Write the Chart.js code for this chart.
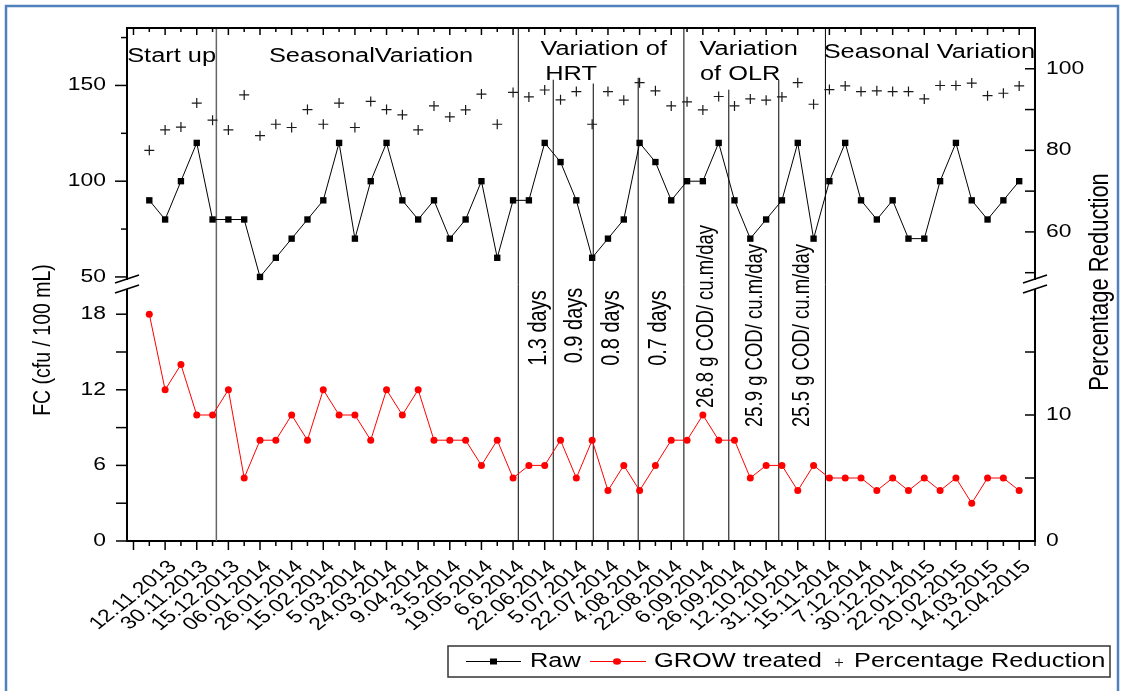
<!DOCTYPE html>
<html>
<head>
<meta charset="utf-8">
<script src="https://cdn.jsdelivr.net/npm/chart.js@4.4.1/dist/chart.umd.min.js"></script>
<style>
  html, body { margin: 0; padding: 0; background: #fff; }
</style>
</head>
<body>
<canvas id="fc" width="1124" height="691"></canvas>
<script>
// sampling dates (one label every second sample)
const dateLabels = ['12.11.2013','30.11.2013','15.12.2013','06.01.2014','26.01.2014','15.02.2014','5.03.2014',
  '24.03.2014','9.04.2014','3.5.2014','19.05.2014','6.6.2014','22.06.2014','5.07.2014','22.07.2014','4.08.2014',
  '22.08.2014','6.09.2014','26.09.2014','12.10.2014','31.10.2014','15.11.2014','7.12.2014','30.12.2014',
  '22.01.2015','20.02.2015','14.03.2015','12.04.2015']

const rawFC = [90,80,100,120,80,80,80,50,60,70, 80,90,120,70,100,120,90,80,90,70,
  80,100,60,90,90,120,110,90,60,70, 80,120,110,90,100,100,120,90,70,80,
  90,120,70,100,120,90,80,90,70,70, 100,120,90,80,90,100]

const growFC = [18,12,14,10,10,12,5,8,8,10, 8,12,10,10,8,12,10,12,8,8,
  8,6,8,5,6,6,8,5,8,4, 6,4,6,8,8,10,8,8,5,6,
  6,4,6,5,5,5,4,5,4,5, 4,5,3,5,5,4]

const pctReduction = [80,85,85.7,91.6,87.4,85,93.6,83.6,86.4,85.6, 90,86.4,91.6,85.6,92,90,88.7,85,90.9,88.2,
  89.9,93.8,86.4,94.2,93.1,94.8,92.4,94.4,86.4,94.4, 92.3,96.6,94.6,90.9,91.9,89.9,93.2,90.9,92.6,92.3,
  93.1,96.6,91.3,94.9,95.8,94.4,94.6,94.4,94.4,92.6, 95.9,95.9,96.5,93.4,94,95.8]

// phase boundaries (sample index) and how high each line reaches on the FC scale
const phaseAt = [5.24, 24.33, 26.54, 29.07, 31.91, 34.8, 37.64, 40.8, 43.75]
const phaseTop = [180, 180, 153, 151, 154, 180, 147.8, 153, 180]

const phaseTitles = [
  {t: 'Start up', x: 2.41, y: 162.5},
  {t: 'SeasonalVariation', x: 15.02, y: 162.5},
  {t: 'Variation of', x: 29.73, y: 166},
  {t: 'HRT', x: 27.67, y: 153},
  {t: 'Variation', x: 38.9, y: 166},
  {t: 'of OLR', x: 38.36, y: 153},
  {t: 'Seasonal Variation', x: 50.32, y: 164.3},
]
const phaseNotes = [
  {t: '1.3 days', x: 25.63, y: 13.9, size: 20},
  {t: '0.9 days', x: 27.93, y: 14.1, size: 20},
  {t: '0.8 days', x: 30.27, y: 13.9, size: 20},
  {t: '0.7 days', x: 33.24, y: 13.9, size: 20},
  {t: '26.8 g COD/ cu.m/day', x: 36.21, y: 10.56, size: 18.5},
  {t: '25.9 g COD/ cu.m/day', x: 39.31, y: 9.05, size: 18.5},
  {t: '25.5 g COD/ cu.m/day', x: 42.28, y: 9.05, size: 18.5},
]

const SX = 1.27
const FONT = '"Liberation Sans", Arial, sans-serif'

const pts = arr => arr.map((v, i) => ({x: i + 1, y: v}))
const range = (a, b, step) => { const out = []; for (let v = a; v <= b; v += step) out.push({value: v}); return out }

function text(ctx, str, x, y, size, align, base, rot) {
  ctx.save()
  ctx.translate(x, y)
  ctx.scale(SX, 1)
  if (rot) ctx.rotate(rot)
  ctx.font = size + 'px ' + FONT
  ctx.textAlign = align
  ctx.textBaseline = base
  ctx.fillStyle = '#000'
  ctx.fillText(str, 0, 0)
  ctx.restore()
}

function line(ctx, x1, y1, x2, y2) {
  ctx.beginPath(); ctx.moveTo(x1, y1); ctx.lineTo(x2, y2); ctx.stroke()
}

function breakMark(ctx, x0, b) {
  ctx.fillStyle = '#fff'
  ctx.fillRect(x0 - 2, b - 9, 4, 9)
  ctx.strokeStyle = '#000'
  ctx.lineWidth = 1.5
  line(ctx, x0 - 12, b - 6, x0 + 12, b - 14)
  line(ctx, x0 - 12, b + 4, x0 + 12, b - 4)
}

const decor = {
  id: 'decor',
  beforeDatasetsDraw(chart) {
    const {ctx, chartArea: a, scales: s} = chart
    ctx.save()
    phaseAt.forEach((v, i) => {
      const px = s.x.getPixelForValue(v)
      ctx.strokeStyle = i === 0 ? '#666' : '#000'
      ctx.lineWidth = i === 0 ? 1.5 : 1
      line(ctx, px, s.yHigh.getPixelForValue(phaseTop[i]), px, a.bottom)
    })
    ctx.restore()
  },
  afterDraw(chart) {
    const {ctx, chartArea: a, scales: s} = chart
    ctx.save()
    ctx.strokeStyle = '#000'

    // top frame
    ctx.lineWidth = 2
    line(ctx, a.left - 1, a.top, a.right + 1, a.top)

    // x ticks, bottom outward and top inward
    ctx.lineWidth = 1.5
    s.x.ticks.forEach(t => {
      const px = s.x.getPixelForValue(t.value)
      const major = t.value % 2 === 0
      line(ctx, px, a.bottom, px, a.bottom + (major ? 9 : 5))
      line(ctx, px, a.top, px, a.top + (major ? 7 : 4))
      if (major && t.value >= 2 && t.value <= 56) {
        text(ctx, dateLabels[t.value / 2 - 1], px + 8, a.bottom + 23, 18, 'right', 'middle', -Math.PI / 4)
      }
    })

    // left axes
    s.yHigh.ticks.forEach(t => {
      const py = s.yHigh.getPixelForValue(t.value)
      const major = t.value % 50 === 0
      line(ctx, a.left - (major ? 12 : 6), py, a.left, py)
      if (major) text(ctx, String(t.value), a.left - 21, py, 18, 'right', 'middle')
    })
    s.yLow.ticks.forEach(t => {
      const py = s.yLow.getPixelForValue(t.value)
      line(ctx, a.left - 11, py, a.left, py)
      if (t.value % 6 === 0) text(ctx, String(t.value), a.left - 21, py, 18, 'right', 'middle')
    })

    // right axes, ticks point inside
    s.rHigh.ticks.forEach(t => {
      const py = s.rHigh.getPixelForValue(t.value)
      line(ctx, a.right - 10, py, a.right, py)
      if (t.value % 20 === 0) text(ctx, String(t.value), a.right + 11, py, 18, 'left', 'middle')
    })
    s.rLow.ticks.forEach(t => {
      const py = s.rLow.getPixelForValue(t.value)
      line(ctx, a.right - 10, py, a.right, py)
      if (t.value % 10 === 0) text(ctx, String(t.value), a.right + 11, py, 18, 'left', 'middle')
    })

    // axis breaks
    const b = s.yHigh.bottom
    breakMark(ctx, a.left, b)
    breakMark(ctx, a.right, b)

    // axis titles
    text(ctx, 'FC (cfu / 100 mL)', 43, 340, 19.5, 'center', 'middle', -Math.PI / 2)
    text(ctx, 'Percentage Reduction', 1100, 282, 22, 'center', 'middle', -Math.PI / 2)

    // phase captions
    phaseTitles.forEach(n => text(ctx, n.t, s.x.getPixelForValue(n.x), s.yHigh.getPixelForValue(n.y), 20, 'center', 'alphabetic'))
    phaseNotes.forEach(n => text(ctx, n.t, s.x.getPixelForValue(n.x), s.yLow.getPixelForValue(n.y), n.size, 'left', 'middle', -Math.PI / 2))

    // legend
    const ly = 661.5
    ctx.strokeStyle = '#333'
    ctx.lineWidth = 1.5
    ctx.strokeRect(448, 646, 662, 31)
    const ds = chart.data.datasets
    ctx.lineWidth = 1
    ctx.strokeStyle = ds[0].borderColor
    line(ctx, 466, ly, 521, ly)
    ctx.fillStyle = ds[0].pointBackgroundColor
    ctx.fillRect(490, ly - 3, 7, 6)
    text(ctx, ds[0].label, 530, ly, 20, 'left', 'middle')
    ctx.strokeStyle = ds[1].borderColor
    line(ctx, 590, ly, 646, ly)
    ctx.fillStyle = ds[1].pointBackgroundColor
    ctx.beginPath(); ctx.ellipse(617, ly, 4, 3.3, 0, 0, Math.PI * 2); ctx.fill()
    text(ctx, ds[1].label, 654, ly, 20, 'left', 'middle')
    ctx.strokeStyle = ds[2].borderColor
    line(ctx, 835, ly + 1, 843, ly + 1)
    line(ctx, 839, ly - 3, 839, ly + 5)
    text(ctx, ds[2].label, 854, ly, 20, 'left', 'middle')

    // outer frame
    ctx.strokeStyle = '#4f81bd'
    ctx.lineWidth = 2.5
    ctx.strokeRect(6, 6, 1112, 700)
    ctx.restore()
  }
}

const hidden = {ticks: {display: false}, grid: {display: false}}
const axisBorder = {color: '#000', width: 2}

new Chart(document.getElementById('fc'), {
  type: 'line',
  data: {
    datasets: [
      {
        label: 'Raw', data: pts(rawFC), yAxisID: 'yHigh',
        borderColor: '#000', borderWidth: 1, pointStyle: 'rect', pointRadius: 4.5,
        pointBackgroundColor: '#000', pointBorderColor: '#000', pointBorderWidth: 0,
      },
      {
        label: 'GROW treated', data: pts(growFC), yAxisID: 'yLow',
        borderColor: '#ff0000', borderWidth: 1, pointStyle: 'circle', pointRadius: 3.5,
        pointBackgroundColor: '#ff0000', pointBorderColor: '#ff0000', pointBorderWidth: 0,
      },
      {
        label: 'Percentage Reduction', data: pts(pctReduction), yAxisID: 'rHigh', showLine: false,
        borderColor: '#1a1a1a', pointStyle: 'cross', pointRadius: 5, pointBorderWidth: 1.2,
      },
    ]
  },
  options: {
    responsive: false,
    animation: false,
    layout: {padding: {top: 28, left: 0, right: 0, bottom: 0}},
    plugins: {legend: {display: false}, tooltip: {enabled: false}},
    scales: {
      x: {
        type: 'linear', position: 'bottom', min: -0.41, max: 57,
        afterBuildTicks: sc => { sc.ticks = range(0, 57, 1) },
        afterFit: sc => { sc.height = 150 },
        border: axisBorder, ...hidden,
      },
      yLow: {
        type: 'linear', position: 'left', stack: 'left', stackWeight: 252, min: 0, max: 20,
        afterBuildTicks: sc => { sc.ticks = range(0, 18, 3) },
        afterFit: sc => { sc.width = 127 },
        border: axisBorder, ...hidden,
      },
      yHigh: {
        type: 'linear', position: 'left', stack: 'left', stackWeight: 261, min: 43.7, max: 180,
        afterBuildTicks: sc => { sc.ticks = range(50, 175, 25) },
        afterFit: sc => { sc.width = 127 },
        border: axisBorder, ...hidden,
      },
      rHigh: {
        type: 'linear', position: 'right', stack: 'right', stackWeight: 261, min: 46, max: 110,
        afterBuildTicks: sc => { sc.ticks = range(50, 100, 10) },
        afterFit: sc => { sc.width = 89 },
        border: axisBorder, ...hidden,
      },
      rLow: {
        type: 'linear', position: 'right', stack: 'right', stackWeight: 252, min: 0, max: 20,
        afterBuildTicks: sc => { sc.ticks = range(0, 15, 5) },
        afterFit: sc => { sc.width = 89 },
        border: axisBorder, ...hidden,
      },
    }
  },
  plugins: [decor]
})
</script>
</body>
</html>
